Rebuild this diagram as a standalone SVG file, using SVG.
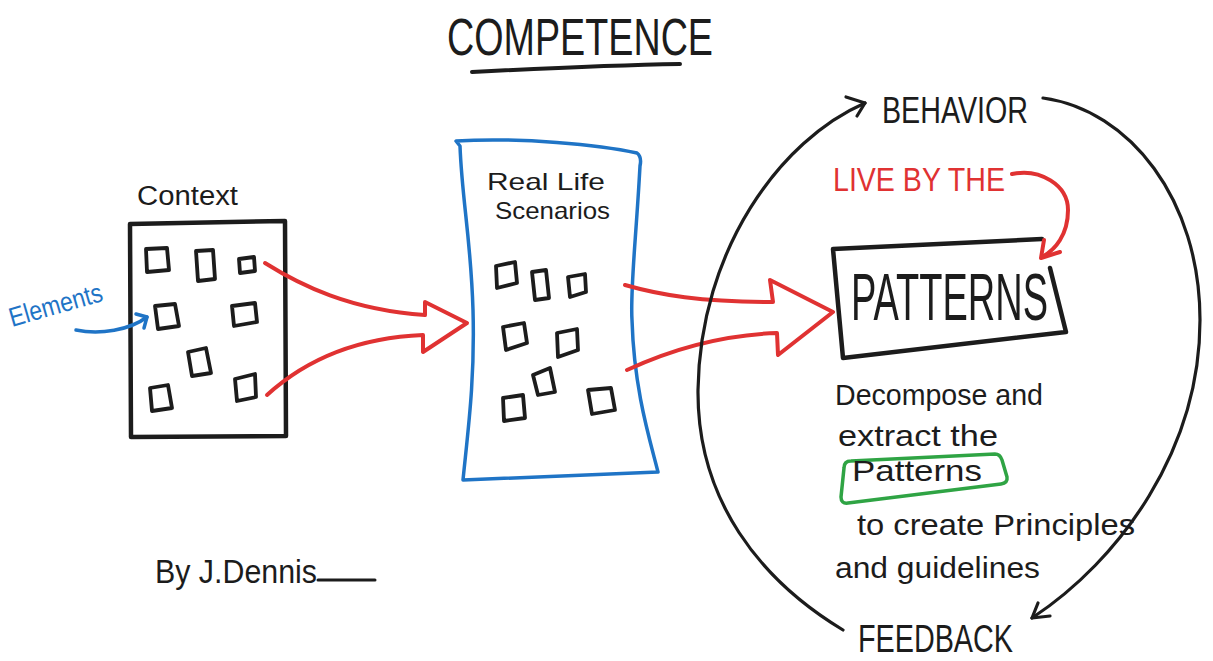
<svg xmlns="http://www.w3.org/2000/svg" width="1213" height="661" viewBox="0 0 1213 661">
<style>
  .t{font-family:"Liberation Sans","DejaVu Sans",sans-serif;fill:#1c1c1c}
  .ink{fill:none;stroke:#1c1c1c;stroke-linecap:round;stroke-linejoin:round}
  .red{fill:none;stroke:#e03232;stroke-width:4;stroke-linecap:round;stroke-linejoin:round}
  .blue{fill:none;stroke:#1f74c6;stroke-linecap:round;stroke-linejoin:round}
  .sq{fill:none;stroke:#1c1c1c;stroke-width:3.8;stroke-linejoin:round}
</style>
<rect width="1213" height="661" fill="#ffffff"/>

<g id="title">
  <text class="t" x="447" y="55" font-size="52" textLength="266" lengthAdjust="spacingAndGlyphs">COMPETENCE</text>
  <path class="ink" stroke-width="4" d="M472,72 C550,68 620,65 680,64"/>
</g>

<g id="context">
  <text class="t" x="137" y="205" font-size="27" textLength="101" lengthAdjust="spacingAndGlyphs">Context</text>
  <path class="ink" stroke-width="4.5" d="M130,224 L285,221 L286,436 L131,437 Z"/>
  <path class="sq" d="M146,249 L167,248 L169,270 L147,272 Z"/>
  <path class="sq" d="M196,251 L213,250 L215,279 L198,281 Z"/>
  <path class="sq" d="M239,259 L254,257 L255,271 L240,273 Z"/>
  <path class="sq" d="M155,306 L175,304 L179,326 L158,329 Z"/>
  <path class="sq" d="M232,306 L255,303 L257,322 L234,326 Z"/>
  <path class="sq" d="M188,352 L206,348 L211,373 L192,376 Z"/>
  <path class="sq" d="M150,388 L168,385 L172,408 L152,411 Z"/>
  <path class="sq" d="M235,379 L255,374 L256,397 L237,401 Z"/>
</g>

<g id="elements">
  <text x="12" y="327" font-size="27" font-family="Liberation Sans, DejaVu Sans, sans-serif" fill="#1f74c6" textLength="96" lengthAdjust="spacingAndGlyphs" transform="rotate(-16 12 327)">Elements</text>
</g>

<g id="real-life">
  <path class="blue" stroke-width="3.5" d="M456,141 C520,137 600,145 637,153 Q642,157 640,166 C636,240 630,290 632,320 C634,390 650,440 658,472 L463,480 C468,430 475,380 473,310 C471,240 462,200 460,146 Z"/>
  <text class="t" x="487" y="190" font-size="24" textLength="118" lengthAdjust="spacingAndGlyphs">Real Life</text>
  <text class="t" x="495" y="219" font-size="24" textLength="115" lengthAdjust="spacingAndGlyphs">Scenarios</text>
  <path class="sq" d="M496,266 L515,262 L517,283 L497,288 Z"/>
  <path class="sq" d="M532,272 L546,270 L549,298 L535,300 Z"/>
  <path class="sq" d="M568,277 L585,274 L586,292 L570,297 Z"/>
  <path class="sq" d="M503,327 L524,323 L527,343 L506,350 Z"/>
  <path class="sq" d="M557,333 L577,329 L578,350 L558,357 Z"/>
  <path class="sq" d="M533,375 L550,368 L555,392 L538,395 Z"/>
  <path class="sq" d="M503,398 L523,395 L525,418 L504,421 Z"/>
  <path class="sq" d="M588,390 L611,388 L615,410 L592,414 Z"/>
</g>

<g id="behavior">
  <text class="t" x="882" y="123" font-size="36" textLength="146" lengthAdjust="spacingAndGlyphs">BEHAVIOR</text>
</g>

<g id="live-by-the">
  <text x="833" y="191" font-size="33" font-family="Liberation Sans, DejaVu Sans, sans-serif" fill="#e03232" textLength="172" lengthAdjust="spacingAndGlyphs">LIVE BY THE</text>
</g>

<g id="patterns">
  <path class="ink" stroke-width="4.5" d="M1042,239 L833,249 L843,358 L1066,332 L1050,268"/>
  <text class="t" x="851" y="320" font-size="66" textLength="197" lengthAdjust="spacingAndGlyphs">PATTERNS</text>
</g>

<g id="decompose">
  <text class="t" font-size="30">
    <tspan x="835" y="405" textLength="208" lengthAdjust="spacingAndGlyphs">Decompose and</tspan>
    <tspan x="838" y="446" textLength="160" lengthAdjust="spacingAndGlyphs">extract the</tspan>
  </text>
  <path fill="none" stroke="#2fa444" stroke-width="3.5" stroke-linejoin="round" d="M844,468 Q844,461 851,461 L995,454 Q1000,454 1002,460 L1007,477 Q1008,483 1001,484 L848,503 Q841,504 841,497 Z"/>
  <text class="t" x="852" y="481" font-size="30" textLength="130" lengthAdjust="spacingAndGlyphs">Patterns</text>
  <text class="t" font-size="30">
    <tspan x="857" y="535" textLength="278" lengthAdjust="spacingAndGlyphs">to create Principles</tspan>
    <tspan x="835" y="578" textLength="205" lengthAdjust="spacingAndGlyphs">and guidelines</tspan>
  </text>
</g>

<g id="feedback">
  <text class="t" x="858" y="652" font-size="38" textLength="155" lengthAdjust="spacingAndGlyphs">FEEDBACK</text>
</g>

<g id="byline">
  <text class="t" x="155" y="583" font-size="34" textLength="162" lengthAdjust="spacingAndGlyphs">By J.Dennis</text>
  <path class="ink" stroke-width="3" d="M318,580 L375,580"/>
</g>

<g id="connectors">
  <path class="blue" stroke-width="3.5" d="M76,330 C100,335 130,330 147,317"/>
  <path class="blue" stroke-width="3.5" d="M136,314 L147,317 L144,328"/>
  <path class="red" d="M265,263 C300,285 350,310 425,315 L425,302 L467,323 L423,352 L423,335 C350,338 300,365 267,395"/>
  <path class="red" d="M625,285 C660,295 700,302 773,302 L770,280 L833,312 L778,355 L777,333 C720,335 670,350 627,370"/>
  <path class="red" d="M1012,174 C1040,168 1068,185 1068,210 C1068,235 1055,250 1042,257"/>
  <path class="red" d="M1044,240 L1041,258 L1060,252"/>
  <path class="ink" stroke-width="3.2" d="M865,103 C780,140 700,250 698,390 C697,500 760,580 843,630"/>
  <path class="ink" stroke-width="3.2" d="M846,97 L865,103 L857,116"/>
  <path class="ink" stroke-width="3.2" d="M1043,98 C1130,110 1200,200 1200,320 C1200,450 1120,560 1032,618"/>
  <path class="ink" stroke-width="3.2" d="M1038,603 L1032,618 L1050,616"/>
</g>
</svg>
